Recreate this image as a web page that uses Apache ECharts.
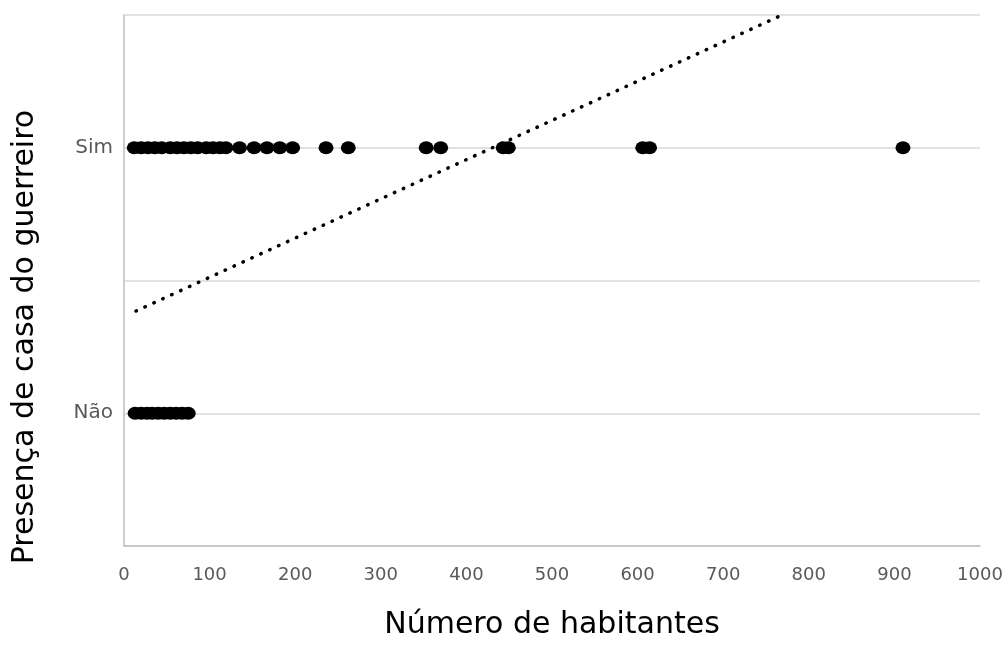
<!DOCTYPE html>
<html>
<head>
<meta charset="utf-8">
<script src="https://cdn.jsdelivr.net/npm/echarts@6/dist/echarts.min.js"></script>
<style>html,body{margin:0;padding:0;background:#fff}#c{width:1007px;height:662px}</style>
</head>
<body>
<div id="c"></div>
<script>
// Habitants for villages with warrior house (Sim = 1)
var simX = [12, 20, 28, 36, 44, 54, 62, 70, 78, 86, 96, 104, 112, 119,
            135, 152, 167, 182, 197, 236, 262, 353, 370, 443, 449, 606, 614, 910];
// Habitants for villages without (Não = 0)
var naoX = [13, 20, 27, 33, 40, 47, 54, 61, 68, 75];
// Trend line endpoints
var trendX = [14, 768.7];
var trendY = [0.385, 1.5];
var yLabels = {'1': 'Sim', '0': 'Não'};
var xTicks = [0, 1000, 100];
var xTitle = 'Número de habitantes';
var yTitle = 'Presença de casa do guerreiro';

var font = '"DejaVu Sans", "Open Sans", sans-serif';
var chart = echarts.init(document.getElementById('c'));
chart.setOption({
  animation: false,
  grid: {left: 124, right: 27, top: 15, bottom: 116, containLabel: false},
  graphic: [{
    type: 'text', x: 25, y: 337, rotation: Math.PI / 2,
    style: {text: yTitle, fontSize: 30, fill: '#000', fontFamily: font,
            align: 'center', verticalAlign: 'middle'}
  }],
  xAxis: {
    type: 'value', min: xTicks[0], max: xTicks[1], interval: xTicks[2],
    name: xTitle, nameLocation: 'middle', nameGap: 64,
    nameTextStyle: {fontSize: 30, color: '#000', fontFamily: font},
    axisLine: {onZero: false, lineStyle: {color: '#bfbfbf', width: 1.5}},
    axisTick: {show: false},
    axisLabel: {fontSize: 18, color: '#595959', fontFamily: font, margin: 20,
      formatter: function (v) { return String(v); }},
    splitLine: {show: false}
  },
  yAxis: {
    type: 'value', min: -0.5, max: 1.5, interval: 0.5,
    axisLine: {show: true, onZero: false, lineStyle: {color: '#bfbfbf', width: 1.5}},
    axisTick: {show: false},
    axisLabel: {fontSize: 20, color: '#595959', fontFamily: font, margin: 11,
      formatter: function (v) { return yLabels[String(v)] || ''; }},
    splitLine: {lineStyle: {color: '#d9d9d9', width: 1.5}}
  },
  series: [
    {type: 'line', data: trendX.map(function (x, i) { return [x, trendY[i]]; }),
     symbol: 'none', silent: true, z: 3,
     lineStyle: {color: '#000', width: 3.5, type: [0.5, 9.3], cap: 'round'}},
    {type: 'scatter', data: simX.map(function (x) { return [x, 1]; }),
     symbol: 'circle', symbolSize: [15, 13], itemStyle: {color: '#000', opacity: 1}, z: 4},
    {type: 'scatter', data: naoX.map(function (x) { return [x, 0]; }),
     symbol: 'circle', symbolSize: [15, 13], itemStyle: {color: '#000', opacity: 1}, z: 4}
  ]
});
</script>
</body>
</html>
